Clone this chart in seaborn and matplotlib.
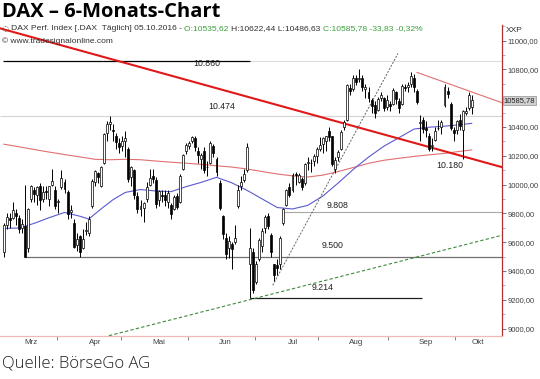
import numpy as np
import pandas as pd
import matplotlib
matplotlib.use("Agg")
import matplotlib.pyplot as plt
import seaborn as sns
from matplotlib.ticker import FixedLocator, FuncFormatter, MultipleLocator

# ---------------- data ----------------
month_names = ["Mrz", "Apr", "Mai", "Jun", "Jul", "Aug", "Sep", "Okt"]
month_start_idx = [0, 21, 42, 64, 86, 107, 130, 152]

opens = [9530, 9720, 9770, 9770, 9800, 9770, 9700, 9710, 9560, 9900, 9960, 9930, 9990, 9900, 9950, 9900, 10000, 9960, 9880, 9980, 10020,
         9950, 9810, 9730, 9580, 9640, 9560, 9680, 9660, 9850, 10020, 10080, 9990, 10150, 10360, 10420, 10380, 10340, 10290, 10270, 10300, 10250,
         10050, 10100, 9920, 9830, 9840, 9900, 10000, 10060, 10030, 9890, 9930, 9930, 9880, 9860, 9830, 9920, 9880, 10110, 10230, 10270, 10300, 10320,
         10230, 10180, 10230, 10120, 10150, 10270, 10180, 10010, 9780, 9630, 9560, 9590, 9600, 9850, 9990, 10030, 10100, 9450, 9530, 9320, 9480, 9570,
         9700, 9780, 9650, 9450, 9440, 9450, 9730, 9860, 9980, 9960, 10070, 10020, 10040, 10010, 10150, 10150, 10160, 10200, 10250, 10280, 10300,
         10370, 10340, 10110, 10190, 10250, 10400, 10450, 10670, 10660, 10740, 10730, 10740, 10660, 10640, 10590, 10550, 10520, 10600, 10600, 10540, 10560, 10560, 10640,
         10580, 10560, 10680, 10680, 10700, 10740, 10650, 10430, 10450, 10390, 10340, 10270, 10310, 10390, 10400, 10550, 10650, 10560, 10380, 10380, 10450, 10380,
         10500, 10530, 10535.62]
highs = [9730, 9800, 9800, 9880, 9830, 9790, 9760, 9995, 9840, 10000, 9980, 9990, 10010, 9990, 9990, 9990, 10110, 9990, 9900, 10100, 10040,
         9960, 9860, 9760, 9660, 9650, 9690, 9740, 9780, 10040, 10100, 10090, 10130, 10360, 10440, 10474, 10420, 10360, 10320, 10340, 10370, 10260,
         10130, 10110, 9950, 9890, 9880, 10020, 10110, 10110, 10050, 9960, 9960, 9960, 9960, 9870, 9930, 9940, 10070, 10210, 10290, 10300, 10340, 10340,
         10260, 10220, 10260, 10160, 10300, 10280, 10190, 10030, 9790, 9660, 9640, 9600, 9720, 10000, 10060, 10110, 10290, 9700, 9560, 9470, 9630, 9700,
         9790, 9800, 9660, 9450, 9480, 9640, 9840, 9970, 10010, 10080, 10090, 10080, 10050, 10150, 10190, 10180, 10210, 10260, 10330, 10330, 10340,
         10400, 10340, 10190, 10240, 10380, 10450, 10700, 10700, 10760, 10760, 10802, 10760, 10700, 10680, 10600, 10580, 10610, 10640, 10610, 10620, 10580, 10670, 10650,
         10600, 10700, 10700, 10710, 10780, 10770, 10660, 10480, 10470, 10440, 10360, 10320, 10400, 10450, 10450, 10700, 10680, 10570, 10400, 10450, 10490, 10520,
         10540, 10640, 10622.44]
lows = [9500, 9690, 9700, 9760, 9720, 9660, 9660, 9498, 9530, 9880, 9880, 9860, 9820, 9880, 9900, 9850, 9990, 9830, 9800, 9970, 9940,
        9760, 9770, 9560, 9540, 9500, 9550, 9650, 9640, 9840, 9990, 10010, 9980, 10140, 10300, 10380, 10300, 10250, 10220, 10230, 10190, 10020,
        9990, 9900, 9800, 9780, 9740, 9880, 9990, 10010, 9840, 9850, 9880, 9850, 9840, 9760, 9820, 9830, 9870, 10100, 10210, 10250, 10290, 10230,
        10150, 10110, 10080, 10060, 10140, 10190, 10060, 9820, 9620, 9480, 9490, 9410, 9590, 9840, 9960, 10020, 10090, 9214, 9250, 9310, 9470, 9530,
        9660, 9690, 9500, 9330, 9370, 9410, 9720, 9850, 9910, 9950, 10000, 10010, 9960, 10000, 10100, 10090, 10130, 10150, 10230, 10220, 10230,
        10300, 10130, 10080, 10160, 10240, 10380, 10440, 10620, 10650, 10690, 10710, 10650, 10600, 10570, 10500, 10460, 10510, 10580, 10510, 10520, 10510, 10550, 10560,
        10500, 10550, 10650, 10640, 10680, 10640, 10560, 10300, 10360, 10330, 10230, 10230, 10300, 10380, 10350, 10540, 10600, 10380, 10300, 10350, 10380, 10180,
        10480, 10520, 10486.63]
closes = [9717, 9776, 9751, 9824, 9778, 9692, 9723, 9498, 9831, 9990, 9933, 9983, 9892, 9950, 9949, 9990, 10022, 9851, 9888, 10046, 9966,
          9794, 9822, 9563, 9624, 9530, 9622, 9682, 9761, 10026, 10094, 10051, 10120, 10350, 10421, 10435, 10373, 10294, 10260, 10299, 10321, 10039,
          10123, 9926, 9828, 9851, 9870, 9980, 10045, 10036, 9862, 9952, 9920, 9890, 9943, 9795, 9916, 9842, 10057, 10205, 10272, 10287, 10333, 10262,
          10204, 10208, 10103, 10121, 10287, 10218, 10088, 9834, 9657, 9519, 9606, 9550, 9631, 9962, 10015, 10071, 10257, 9557, 9268, 9448, 9612, 9680,
          9776, 9709, 9532, 9373, 9418, 9629, 9833, 9964, 9930, 10068, 10066, 10063, 9981, 10142, 10156, 10147, 10198, 10247, 10274, 10320, 10337,
          10330, 10144, 10170, 10227, 10367, 10432, 10692, 10650, 10742, 10713, 10739, 10676, 10679, 10603, 10544, 10495, 10592, 10623, 10529, 10588, 10544, 10657, 10593,
          10534, 10684, 10673, 10688, 10752, 10675, 10573, 10432, 10386, 10379, 10250, 10276, 10373, 10393, 10436, 10674, 10626, 10394, 10361, 10438, 10405, 10511,
          10511, 10619, 10585.78]

# moving averages (bar index, value)
blue_ma_idx = [0, 5, 10, 15, 20, 25, 28, 32, 36, 40, 45, 50, 55, 60, 65, 70, 75, 80, 85, 90, 95, 100, 105, 110, 115, 120, 125, 130, 135, 140, 145, 150, 154]
blue_ma_val = [9695, 9698, 9730, 9770, 9806, 9780, 9760, 9830, 9895, 9945, 9965, 9955, 9950, 9985, 10015, 10050, 10012, 9960, 9900, 9840, 9830,
               9855, 9920, 10010, 10105, 10190, 10265, 10325, 10385, 10398, 10405, 10415, 10425]
red_ma_idx = [0, 5, 10, 15, 20, 25, 30, 35, 40, 45, 50, 55, 60, 65, 70, 75, 80, 85, 90, 95, 100, 105, 110, 115, 120, 125, 130, 135, 140, 145, 150, 154]
red_ma_val = [10280, 10262, 10243, 10225, 10208, 10192, 10175, 10172, 10175, 10172, 10163, 10155, 10148, 10140, 10130, 10121, 10108, 10090, 10073,
              10060, 10052, 10065, 10090, 10118, 10147, 10168, 10182, 10195, 10206, 10216, 10230, 10240]

# trend lines (bar index, price)
down_trend_idx = [-1.3, 164.0]
down_trend_val = [11085, 10120]
channel_idx = [135.9, 164.0]
channel_val = [10779, 10567]
steep_idx = [88.5, 129.7]
steep_val = [9300, 10910]
green_idx = [34.6, 164.0]
green_val = [8950, 9648]

# horizontal levels
level_vals = [10860, 10474, 9808, 9500, 9214, 10180]
level_labels = ["10.860", "10.474", "9.808", "9.500", "9.214", "10.180"]

ytick_vals = [9000, 9200, 9400, 9600, 9800, 10000, 10200, 10400, 10600, 10800, 11000]
last_close = 10585.78

# ---------------- figure ----------------
sns.set_theme(style="white")
plt.rcParams["font.family"] = ["Liberation Sans", "DejaVu Sans"]

W, H = 540, 379
fig = plt.figure(figsize=(W / 100, H / 100), dpi=100)
fig.patch.set_facecolor("white")

px_left, px_right, px_top, px_bot = 0, 502, 25, 336
ax = fig.add_axes([px_left / W, 1 - px_bot / H, (px_right - px_left) / W, (px_bot - px_top) / H])
ax.set_facecolor("white")

n = len(closes)
df = pd.DataFrame({"idx": np.arange(n), "open": opens, "high": highs, "low": lows, "close": closes})

x_of = lambda px: (px - 3.7) / 3.04
ax.set_xlim(x_of(px_left), x_of(px_right))
p_per_px = 2000 / 288.0
ax.set_ylim(11000 - (px_bot - 40.5) * p_per_px, 11000 + (40.5 - px_top) * p_per_px)

# horizontal level lines
ax.hlines(level_vals[0], x_of(3), x_of(250), color="black", lw=0.9, zorder=2)
ax.hlines(level_vals[0], x_of(250), x_of(502), color="#dcdcdc", lw=0.8, zorder=1)
ax.hlines(level_vals[1], x_of(0), x_of(502), color="#d4d4d4", lw=0.8, zorder=1)
ax.hlines(level_vals[2], x_of(283), x_of(502), color="#a8a8a8", lw=0.8, zorder=1)
ax.hlines(level_vals[3], df["idx"][7], x_of(502), color="#707070", lw=0.9, zorder=1)
ax.hlines(level_vals[4], df["idx"][81], x_of(422), color="#202020", lw=0.9, zorder=1)

# moving averages
sns.lineplot(x=red_ma_idx, y=red_ma_val, ax=ax, color="#e07070", lw=0.8, zorder=2)
sns.lineplot(x=blue_ma_idx, y=blue_ma_val, ax=ax, color="#5a5ad0", lw=0.8, zorder=2)

# trend lines
sns.lineplot(x=down_trend_idx, y=down_trend_val, ax=ax, color="#e01818", lw=1.5, zorder=3)
sns.lineplot(x=channel_idx, y=channel_val, ax=ax, color="#e07070", lw=0.8, zorder=3)
sns.lineplot(x=steep_idx, y=steep_val, ax=ax, color="#606060", lw=0.7, zorder=3).lines[-1].set_dashes([2, 1.5])
sns.lineplot(x=green_idx, y=green_val, ax=ax, color="#3d8a3d", lw=0.8, zorder=3).lines[-1].set_dashes([3, 2])

# candlesticks
ax.vlines(df["idx"], df["low"], df["high"], color="black", lw=0.7, zorder=4)
body_lo = np.minimum(df["open"], df["close"])
body_h = np.maximum(np.abs(df["close"] - df["open"]), 4)
up = df["close"] >= df["open"]
ax.bar(df["idx"][up], body_h[up], bottom=body_lo[up], width=0.65, color="white", edgecolor="black", lw=0.5, zorder=5)
ax.bar(df["idx"][~up], body_h[~up], bottom=body_lo[~up], width=0.65, color="black", edgecolor="black", lw=0.5, zorder=5)

# level labels
lab_pos = [(207, 64), (222, 107), (338, 205), (333, 246), (323, 288), (450, 166)]
for lab, (px, py) in zip(level_labels, lab_pos):
    ax.text(x_of(px), 11000 - (py - 40.5) * p_per_px, lab, fontsize=6.3, color="#202020",
            ha="center", va="center", zorder=6)

# axes styling
for s in ["left", "top"]:
    ax.spines[s].set_visible(False)
ax.spines["right"].set_color("#b03030")
ax.spines["right"].set_linewidth(0.9)
ax.spines["bottom"].set_color("#f0b8b8")
ax.spines["bottom"].set_linewidth(0.9)


def ylab(v, p):
    # the 10600 label is hidden behind the current-price tag in the original
    if abs(v - 10600) < 1:
        return ""
    return f"{v:.2f}".replace(".", ",")


ax.yaxis.tick_right()
ax.yaxis.set_major_locator(FixedLocator(ytick_vals))
ax.yaxis.set_minor_locator(MultipleLocator(100))
ax.yaxis.set_major_formatter(FuncFormatter(ylab))
ax.tick_params(axis="y", which="major", right=True, length=3, width=0.6, color="#606060",
               labelsize=5.5, labelcolor="#404040", pad=0.8)
ax.tick_params(axis="y", which="minor", right=True, length=2, width=0.5, color="#909090")

tick_pos = [s - 3.5 for s in month_start_idx[1:]]
label_pos = [min(s + 9, n + 1) for s in month_start_idx]
ax.xaxis.set_major_locator(FixedLocator(tick_pos))
ax.xaxis.set_major_formatter(FuncFormatter(lambda v, p: ""))
ax.xaxis.set_minor_locator(FixedLocator(label_pos))
ax.set_xticklabels(month_names, minor=True)
ax.tick_params(axis="x", which="major", bottom=True, length=3, width=0.6, color="#707070")
ax.tick_params(axis="x", which="minor", bottom=False, length=0, labelsize=5.8, labelcolor="#404040", pad=2)
ax.set_xlabel("")
ax.set_ylabel("")
ax.grid(False)

# current price tag
ax.annotate(f"{last_close:.2f}".replace(".", ","), xy=(1.0, last_close), xycoords=("axes fraction", "data"),
            xytext=(1.2, 0), textcoords="offset points", fontsize=5.4, color="#202020", va="center", ha="left",
            bbox=dict(boxstyle="square,pad=0.12", fc="#d0d0d0", ec="#909090", lw=0.5), zorder=10,
            annotation_clip=False)

# header texts
fig.text(2 / W, 1 - 12 / H, "DAX – 6-Monats-Chart", fontsize=14.5, fontweight="bold",
         family=["Open Sans", "DejaVu Sans"], va="center", ha="left", color="black")
fig.text(2 / W, 1 - 29 / H, "◌", fontsize=6, color="#404040", va="center", ha="left", family=["DejaVu Sans"])
parts = [("DAX Perf. Index [.DAX  Täglich] 05.10.2016 - ", "#303030"), ("O:10535,62 ", "#3aa03a"),
         ("H:10622,44 L:10486,63 ", "#303030"), ("C:10585,78 -33,83 -0,32%", "#3aa03a")]
renderer = fig.canvas.get_renderer()
xcur = 11 / W
for txt, col in parts:
    t = fig.text(xcur, 1 - 29 / H, txt, fontsize=6.1, color=col, va="center", ha="left")
    xcur = t.get_window_extent(renderer=renderer).x1 / W
fig.text(2 / W, 1 - 41 / H, "© www.tradesignalonline.com", fontsize=6.0, color="#303030", va="center", ha="left")
fig.text(506 / W, 1 - 31 / H, "XXP", fontsize=6, color="#303030", va="center", ha="left")
fig.text(2 / W, 1 - 364 / H, "Quelle: BörseGo AG", fontsize=12, family=["Open Sans", "DejaVu Sans"],
         fontweight="light", color="#202020", va="center", ha="left")

fig.savefig("out.png", dpi=100, facecolor="white")
